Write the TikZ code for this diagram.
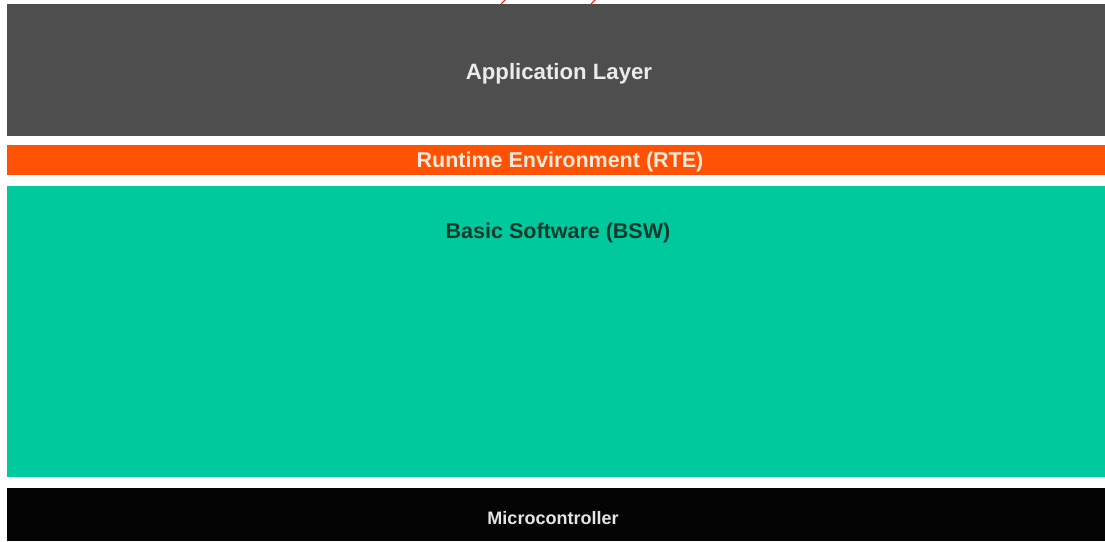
\documentclass[tikz,border=0pt]{standalone}
\usepackage{fontspec}
\setmainfont{Liberation Sans}
\definecolor{appgray}{HTML}{4E4E4E}
\definecolor{rteorange}{HTML}{FF5205}
\definecolor{bswteal}{HTML}{00C99D}
\definecolor{mcublack}{HTML}{040404}
\definecolor{bswtext}{HTML}{0E3A2E}
\definecolor{rtetext}{HTML}{FFE9DA}
\begin{document}
\begin{tikzpicture}[x=1pt,y=-1pt,
  label/.style={font=\bfseries\fontsize{21.5}{24}\selectfont,inner sep=0pt}]
\useasboundingbox (0,0) rectangle (1105,541);
\fill[white] (0,0) rectangle (1105,541);
% the four stacked layers
\fill[appgray]   (7,4)   rectangle (1105,136);
\fill[rteorange] (7,145) rectangle (1105,175);
\fill[bswteal]   (7,186) rectangle (1105,477);
\fill[mcublack]  (7,488) rectangle (1105,541);
% layer names
\node[label,font=\bfseries\fontsize{22.2}{25}\selectfont,text=white!92!black] (app) at (559,73.5) {Application Layer};
\node[label,text=rtetext] (rte) at (560,161.5) {Runtime Environment (RTE)};
\node[label,text=bswtext] (bsw) at (558,232.5) {Basic Software (BSW)};
\node[label,font=\bfseries\fontsize{18}{22}\selectfont,text=white!90!black] (mcu) at (553,518.5) {Microcontroller};
% small red strokes at the top edge
\draw[red,line width=1pt] (501,4) -- (505,0);
\draw[red,line width=1pt] (591,4) -- (595,0);
\end{tikzpicture}
\end{document}
